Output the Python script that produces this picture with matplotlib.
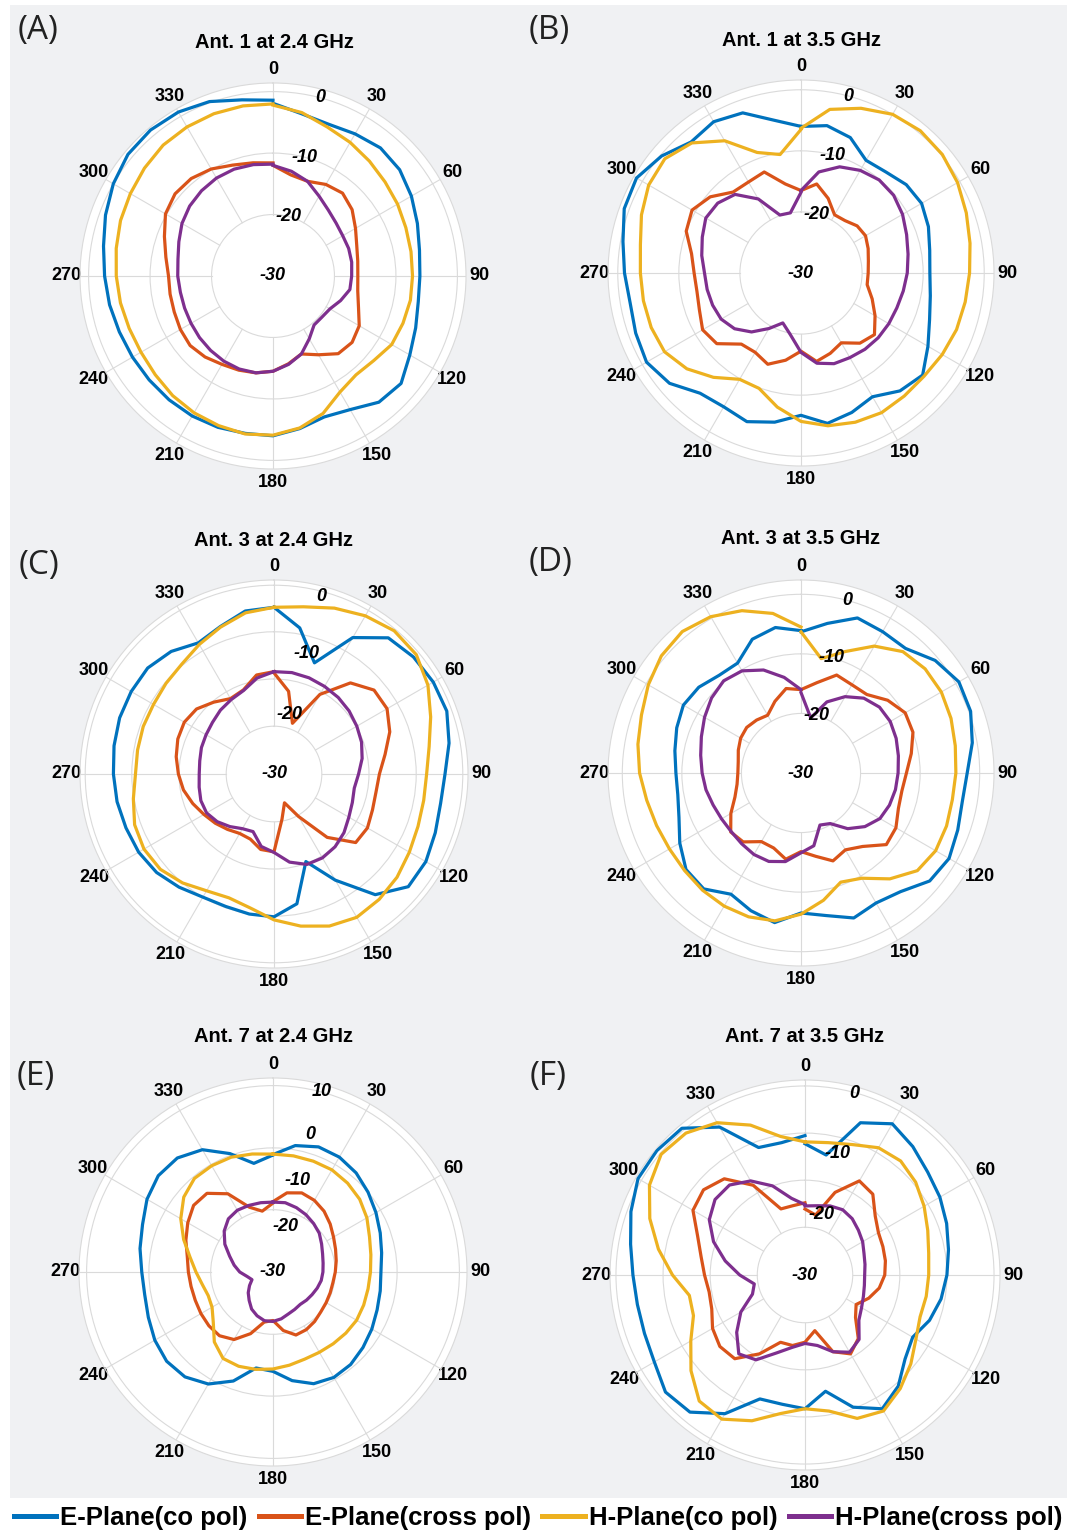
import numpy as np
import matplotlib.pyplot as plt
from matplotlib.lines import Line2D
from matplotlib.patches import Rectangle

# angle of each sample (deg, clockwise from top)
angles = np.arange(0, 361, 10)

# (A) Ant. 1 at 2.4 GHz
a_e_co = [-1.9, -3.2, -3.7, -3.3, -2.8, -3.1, -4.0, -5.0, -5.8, -6.1, -6.0, -5.3, -4.3, -2.8, -3.2, -4.9, -5.6, -4.8, -4.0,
          -4.0, -3.8, -3.7, -3.7, -3.7, -3.6, -3.4, -3.0, -2.6, -2.0, -1.0, 0.0, 0.8, 1.0, 0.8, 0.2, -0.9, -1.4]
a_e_cross = [-12.0, -13.3, -13.6, -12.8, -12.4, -13.2, -14.5, -15.5, -16.0, -16.2, -16.0, -15.2, -13.8, -13.2, -13.5, -15.2,
             -16.5, -15.5, -14.5, -14.0, -13.7, -13.4, -12.8, -12.4, -12.6, -12.9, -13.0, -13.0, -12.3, -11.2, -9.8, -9.2,
             -9.3, -9.9, -10.8, -11.3, -11.6]
a_h_co = [-2.2, -3.0, -4.2, -4.9, -5.6, -6.2, -6.6, -7.0, -7.2, -7.3, -7.3, -7.5, -7.7, -8.6, -9.0, -8.2, -6.2, -4.9, -4.1,
          -3.9, -4.1, -4.3, -4.6, -5.0, -5.2, -5.1, -4.8, -4.5, -4.1, -3.6, -3.2, -2.7, -2.2, -2.0, -1.9, -1.9, -2.0]
a_h_cross = [-12.0, -12.7, -13.6, -15.0, -16.0, -16.6, -16.9, -16.9, -17.0, -17.2, -17.3, -18.3, -19.3, -19.6, -19.6, -18.2,
             -16.5, -15.4, -14.5, -14.0, -13.9, -14.0, -14.2, -14.4, -14.6, -14.7, -14.7, -14.5, -14.3, -13.7, -12.9,
             -12.3, -11.9, -11.6, -11.5, -11.6, -11.8]

# (B) Ant. 1 at 3.5 GHz
b_e_co = [-6.0, -5.5, -6.4, -8.7, -8.4, -7.5, -7.2, -7.8, -8.6, -8.9, -8.5, -7.6, -6.0, -4.0, -4.8, -6.6, -5.7, -5.0, -6.7,
          -5.2, -4.1, -4.7, -4.3, -1.9, -0.8, -1.2, -1.6, -1.1, -0.4, 0.8, 1.1, -0.2, -2.0, -1.4, -2.1, -4.6, -6.0]
b_e_cross = [-16.5, -15.2, -17.0, -19.0, -18.8, -18.0, -17.8, -18.3, -18.8, -19.0, -19.0, -17.6, -16.0, -14.3, -15.0, -16.8,
             -16.0, -15.3, -17.2, -15.5, -14.1, -15.0, -14.8, -12.0, -11.4, -12.3, -12.7, -12.5, -11.8, -10.0, -9.4,
             -10.6, -12.7, -12.8, -12.4, -15.2, -16.5]
b_h_co = [-6.3, -2.8, -1.3, 0.0, 0.4, 0.2, -0.4, -1.2, -1.9, -2.4, -2.7, -2.9, -3.3, -3.7, -3.7, -3.6, -4.0, -4.6, -5.7,
          -7.7, -9.9, -9.9, -7.7, -5.6, -4.2, -3.9, -3.8, -3.7, -3.3, -2.2, -1.2, -0.9, -2.2, -5.0, -9.0, -10.3, -6.5]
b_h_cross = [-16.5, -13.2, -11.5, -10.6, -10.1, -10.2, -10.8, -11.6, -12.2, -12.6, -13.0, -13.3, -13.4, -13.5, -13.7, -14.0,
             -14.2, -15.0, -17.0, -19.8, -21.3, -19.5, -17.4, -15.8, -14.9, -14.6, -14.4, -14.2, -13.5, -12.8, -12.0,
             -12.2, -13.2, -16.0, -19.9, -20.0, -16.8]

# (C) Ant. 3 at 2.4 GHz
c_e_co = [-2.8, -5.8, -10.7, -4.3, -1.0, -0.3, 0.0, 0.0, -1.0, -2.1, -2.4, -2.0, -1.4, -1.4, -4.3, -10.0, -14.8, -8.5, -6.7,
          -6.8, -7.0, -6.8, -5.9, -5.0, -4.5, -4.3, -4.0, -3.8, -3.5, -3.2, -3.1, -3.1, -3.9, -5.3, -4.4, -3.0, -2.8]
c_e_cross = [-13.5, -16.3, -21.2, -15.0, -10.6, -8.7, -8.7, -9.9, -11.6, -12.8, -13.1, -12.9, -12.4, -12.6, -16.5, -22.0,
             -25.0, -22.5, -17.3, -17.5, -18.7, -18.8, -18.2, -17.5, -16.8, -15.9, -15.0, -14.4, -13.8, -13.3, -13.1,
             -13.5, -14.7, -15.8, -15.4, -13.6, -13.3]
c_h_co = [-2.8, -2.3, -1.2, -0.2, 0.5, 0.3, -1.0, -2.8, -4.3, -5.1, -5.2, -5.0, -4.5, -3.8, -3.3, -3.0, -3.6, -4.8, -6.2,
          -7.8, -8.5, -8.0, -6.8, -5.8, -5.5, -5.8, -6.7, -7.4, -7.4, -7.3, -7.3, -7.0, -6.6, -5.6, -4.5, -3.3, -2.8]
c_h_cross = [-13.3, -13.2, -13.3, -13.5, -13.7, -14.0, -14.4, -14.8, -15.4, -16.2, -16.7, -16.4, -15.9, -15.1, -14.5, -14.2,
             -14.3, -15.4, -17.2, -18.0, -20.0, -19.7, -18.8, -17.9, -17.3, -17.3, -17.6, -17.8, -17.7, -17.4, -17.2,
             -16.9, -16.4, -16.0, -15.5, -14.1, -13.3]

# (D) Ant. 3 at 3.5 GHz
d_e_co = [-6.3, -4.5, -2.3, -2.6, -2.7, -0.6, 0.6, 0.3, -0.8, -2.1, -2.5, -2.0, -1.3, -1.8, -4.0, -4.8, -4.1, -5.7, -6.5,
          -4.5, -5.4, -6.5, -4.6, -4.8, -6.5, -8.2, -9.0, -9.0, -8.5, -7.8, -7.2, -7.6, -8.6, -8.7, -6.1, -5.2, -6.1]
d_e_cross = [-16.0, -14.6, -12.5, -12.9, -12.8, -11.0, -9.8, -10.0, -11.2, -12.3, -12.8, -12.6, -11.6, -11.3, -13.9, -15.1,
             -14.3, -15.8, -16.8, -15.3, -16.6, -16.7, -14.9, -14.6, -16.4, -18.2, -19.1, -19.4, -19.3, -18.8, -18.3,
             -18.1, -18.4, -18.8, -17.2, -15.6, -16.0]
d_h_co = [-6.3, -10.5, -8.3, -5.4, -3.4, -2.8, -2.8, -3.2, -3.7, -4.0, -4.2, -4.0, -3.9, -4.5, -6.8, -9.6, -10.5, -8.3, -6.3,
          -4.8, -4.3, -4.2, -4.3, -4.5, -4.5, -4.2, -3.7, -2.9, -2.2, -1.5, -0.4, 0.6, 1.0, 0.3, -1.0, -2.8, -5.5]
d_h_cross = [-16.5, -20.6, -17.3, -15.2, -13.6, -12.8, -12.7, -13.0, -13.4, -13.7, -13.9, -14.2, -14.7, -16.0, -17.8, -20.2,
             -20.7, -17.6, -16.6, -14.9, -14.2, -14.2, -14.5, -14.7, -14.6, -14.3, -13.8, -13.4, -12.9, -12.2, -11.3,
             -10.4, -9.8, -10.2, -11.6, -13.7, -16.0]

# (E) Ant. 7 at 2.4 GHz
e_e_co = [-5.3, -3.0, -2.0, -2.1, -2.8, -3.9, -5.0, -6.0, -6.8, -7.3, -7.1, -6.7, -6.0, -5.3, -4.6, -4.4, -5.0, -6.8, -9.1,
          -9.5, -5.6, -2.8, -1.2, -0.8, -1.3, -2.1, -2.6, -2.4, -1.6, -0.8, 0.6, 1.5, 1.3, -0.3, -3.5, -6.8, -5.4]
e_e_cross = [-15.2, -13.1, -12.3, -12.6, -13.3, -14.3, -15.3, -16.0, -16.5, -16.9, -17.2, -17.2, -17.1, -16.9, -16.4, -16.0,
             -15.9, -17.5, -19.8, -19.3, -16.2, -13.6, -12.5, -12.4, -12.5, -12.6, -12.5, -12.2, -11.7, -10.5, -9.3,
             -8.2, -8.4, -11.0, -15.5, -17.0, -15.5]
e_h_co = [-5.2, -5.2, -5.2, -5.2, -5.6, -6.2, -7.2, -8.4, -9.1, -9.5, -9.7, -9.7, -9.7, -10.0, -10.3, -10.5, -10.5, -10.1,
          -9.6, -9.2, -8.9, -9.0, -10.8, -13.6, -15.2, -15.5, -14.9, -13.8, -12.3, -10.0, -7.6, -5.5, -4.3, -4.2, -4.3,
          -4.8, -5.2]
e_h_cross = [-15.3, -15.2, -15.6, -16.1, -16.7, -17.3, -18.2, -18.9, -19.3, -19.5, -19.7, -20.1, -20.5, -20.8, -21.1, -20.9,
             -20.6, -20.0, -19.6, -19.6, -20.2, -21.0, -22.2, -23.2, -24.3, -25.3, -24.5, -23.0, -21.7, -20.3, -18.3,
             -16.6, -15.4, -15.0, -15.1, -15.2, -15.3]

# (F) Ant. 7 at 3.5 GHz
f_e_co = [-9.1, -10.6, -4.2, -2.2, -3.3, -4.5, -5.2, -6.0, -6.8, -7.4, -8.0, -8.9, -10.2, -9.2, -6.9, -5.4, -7.6, -11.2,
          -8.7, -9.1, -9.0, -4.5, -1.5, -1.0, -2.3, -2.8, -2.9, -2.6, -1.8, -0.5, 0.7, 0.8, 0.5, -2.8, -8.4, -8.6, -7.8]
f_e_cross = [-19.5, -20.3, -16.0, -12.7, -13.2, -15.4, -16.5, -16.8, -17.0, -17.3, -18.0, -19.2, -20.6, -19.5, -16.8, -15.5,
             -17.0, -21.0, -19.3, -18.6, -18.6, -15.5, -12.6, -12.3, -13.0, -14.2, -14.5, -14.0, -13.2, -11.8, -9.4,
             -8.9, -10.0, -13.5, -18.8, -18.8, -18.5]
f_h_co = [-8.8, -8.6, -7.9, -6.6, -6.3, -7.0, -8.1, -9.2, -10.0, -10.3, -10.4, -10.5, -9.6, -8.0, -6.4, -5.0, -5.7, -8.0,
          -8.7, -7.6, -5.3, -3.5, -3.8, -6.3, -9.0, -11.1, -11.3, -8.9, -6.3, -3.7, -1.4, -0.1, -0.5, -2.0, -4.6, -7.6,
          -8.8]
f_h_cross = [-19.0, -18.8, -18.3, -18.0, -18.3, -18.9, -19.4, -20.0, -20.3, -20.5, -20.4, -20.1, -19.6, -18.8, -16.6, -15.8,
             -17.0, -18.6, -19.1, -18.3, -16.8, -14.4, -13.6, -15.8, -18.2, -21.1, -21.8, -19.6, -17.1, -14.5, -12.4,
             -11.3, -11.3, -12.7, -14.9, -17.6, -18.8]

titles = ['Ant. 1 at 2.4 GHz', 'Ant. 1 at 3.5 GHz', 'Ant. 3 at 2.4 GHz',
          'Ant. 3 at 3.5 GHz', 'Ant. 7 at 2.4 GHz', 'Ant. 7 at 3.5 GHz']
letters = ['(A)', '(B)', '(C)', '(D)', '(E)', '(F)']
series_labels = ['E-Plane(co pol)', 'E-Plane(cross pol)', 'H-Plane(co pol)', 'H-Plane(cross pol)']
theta_ticks = list(range(0, 360, 30))

panels = [
    [a_e_co, a_e_cross, a_h_co, a_h_cross],
    [b_e_co, b_e_cross, b_h_co, b_h_cross],
    [c_e_co, c_e_cross, c_h_co, c_h_cross],
    [d_e_co, d_e_cross, d_h_co, d_h_cross],
    [e_e_co, e_e_cross, e_h_co, e_h_cross],
    [f_e_co, f_e_cross, f_h_co, f_h_cross],
]

# layout (pixels): centre, radius, r max, grid rings, r labels, title and letter positions
layout = [
    dict(c=(273, 276), R=193, rmax=1.4, rings=[-20, -10, 0], rl=[('0', 0), ('-10', -10), ('-20', -20)],
         title=(274, 42), letter=(38, 30)),
    dict(c=(801, 273), R=193, rmax=1.6, rings=[-20, -10, 0], rl=[('0', 0), ('-10', -10), ('-20', -20)],
         title=(801, 40), letter=(549, 30)),
    dict(c=(274, 774), R=194, rmax=1.65, rings=[-22.2, -14.5, -6.8, 0.8], rl=[('0', 0), ('-10', -9.6), ('-20', -20)],
         title=(274, 540), letter=(39, 565)),
    dict(c=(801, 773), R=193, rmax=2.4, rings=[-20, -10, 0], rl=[('0', 0), ('-10', -10), ('-20', -20)],
         title=(801, 539), letter=(551, 563)),
    dict(c=(273, 1272), R=194, rmax=10.8, rings=[-16.9, -3.9, 9.2],
         rl=[('10', 9.3), ('0', 0), ('-10', -10), ('-20', -20)], title=(273, 1036), letter=(36, 1076)),
    dict(c=(805, 1275), R=195, rmax=1.05, rings=[-22.4, -14.9, -7.4, 0.1], rl=[('0', 0), ('-10', -10), ('-20', -20)],
         title=(805, 1037), letter=(548, 1076)),
]

colors = ['#0072BD', '#D95319', '#EDB120', '#7E2F8E']
grid_col = '#dadada'

plt.rcParams['font.family'] = ['Liberation Sans', 'DejaVu Sans']
plt.rcParams['font.weight'] = 'bold'
plt.rcParams['font.size'] = 13

W, H = 1076, 1536
fig = plt.figure(figsize=(W / 100, H / 100), dpi=100)
fig.patches.append(Rectangle((10 / W, 1 - 1498 / H), 1057 / W, 1493 / H, transform=fig.transFigure,
                             facecolor='#f0f1f3', edgecolor='none', zorder=-10))

th = np.radians(angles)
for data, lay, title, letter in zip(panels, layout, titles, letters):
    cx, cy = lay['c']
    R = lay['R']
    ax = fig.add_axes([(cx - R) / W, 1 - (cy + R) / H, 2 * R / W, 2 * R / H], projection='polar')
    ax.set_theta_zero_location('N')
    ax.set_theta_direction(-1)
    ax.set_facecolor('white')
    ax.set_axisbelow(True)
    ax.set_ylim(-30, lay['rmax'])

    for vals, col in zip(data, colors):
        ax.plot(th, vals, color=col, lw=2.3, zorder=3, solid_joinstyle='round')

    ax.set_thetagrids(theta_ticks, [str(t) for t in theta_ticks], fontsize=13, fontweight='bold')
    ax.tick_params(axis='x', length=0, pad=3)
    ax.xaxis.grid(False)
    ax.set_rgrids(lay['rings'], labels=[''] * len(lay['rings']))
    ax.tick_params(axis='y', length=0)
    ax.yaxis.grid(True, color=grid_col, lw=0.8)
    ax.spines['polar'].set_color(grid_col)
    ax.spines['polar'].set_linewidth(0.8)

    # spokes start at the inner ring
    for t in theta_ticks:
        ax.plot([np.radians(t)] * 2, [lay['rings'][0], lay['rmax']], color=grid_col, lw=0.8, zorder=1)

    for s, v in lay['rl'] + [('-30', -30)]:
        ax.text(np.radians(15) if v > -30 else 0, v, s, ha='center', va='center', fontsize=13,
                fontweight='bold', fontstyle='italic', zorder=4)
    ax.set_ylim(-30, lay['rmax'])

    fig.text(lay['title'][0] / W, 1 - lay['title'][1] / H, title, ha='center', va='center',
             fontsize=14.5, fontweight='bold')
    fig.text(lay['letter'][0] / W, 1 - lay['letter'][1] / H, letter, ha='center', va='center',
             fontsize=24, fontweight='normal', family=['Open Sans', 'DejaVu Sans'], color='#222222')

handles = [Line2D([], [], color=c, lw=3.6) for c in colors]
fig.legend(handles, series_labels, loc='center', bbox_to_anchor=(538 / W, 1 - 1518 / H), ncol=4, frameon=False,
           handlelength=1.65, handletextpad=0.15, columnspacing=0.45,
           prop=dict(weight='bold', size=18.5))

fig.savefig('out.png', dpi=100)
